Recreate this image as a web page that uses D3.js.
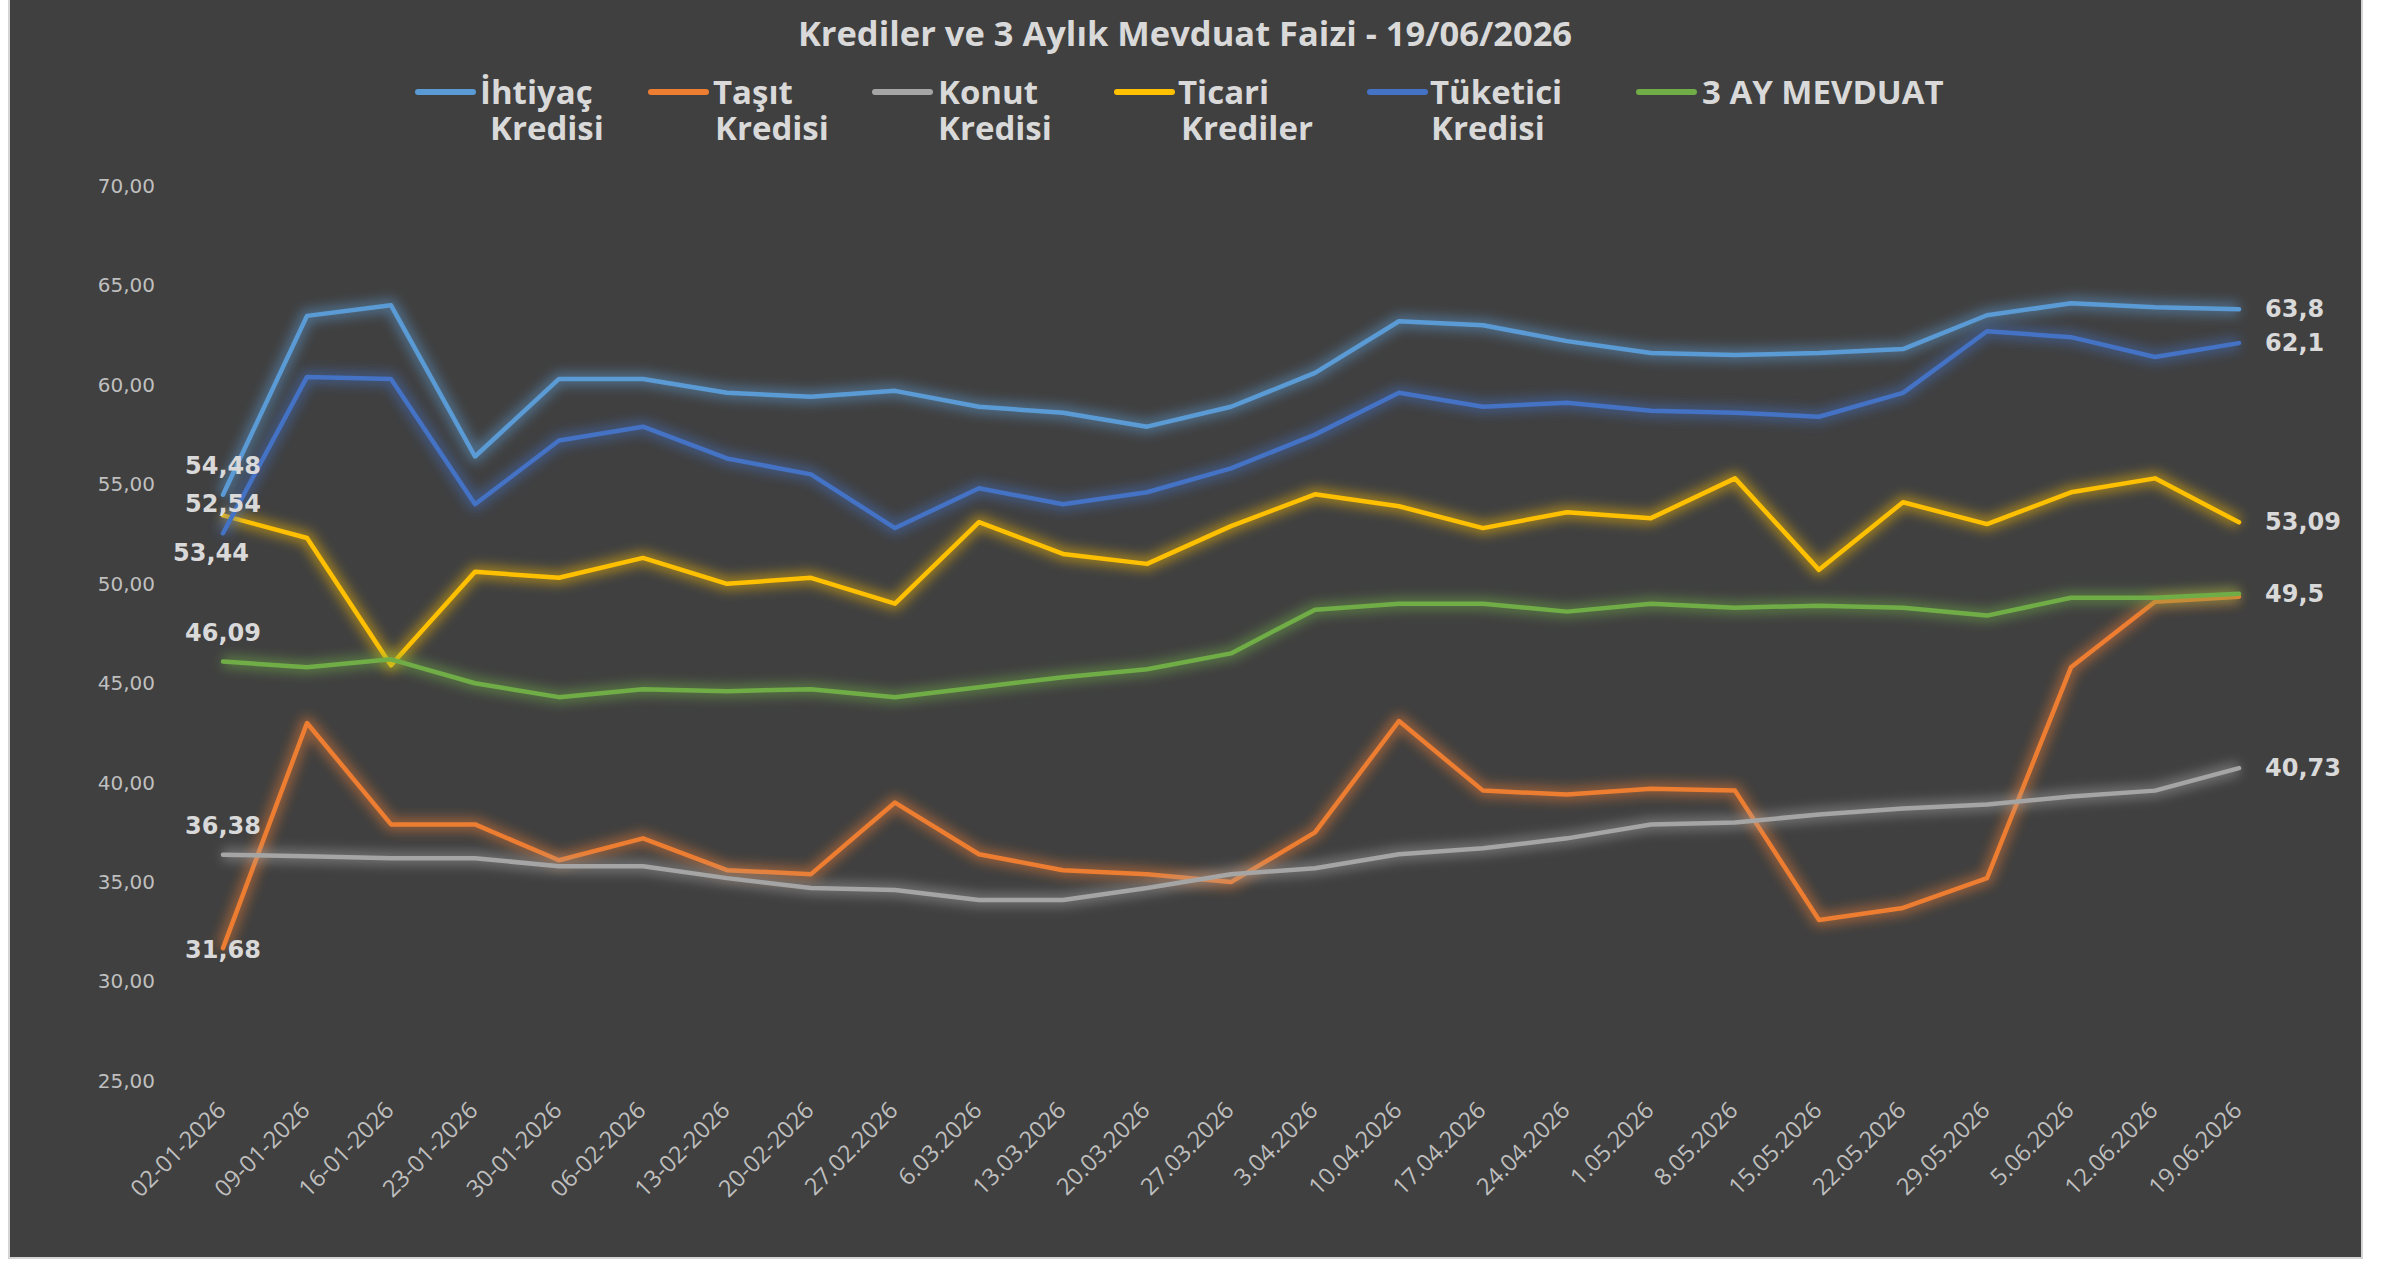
<!DOCTYPE html>
<html><head><meta charset="utf-8">
<script src="https://cdn.jsdelivr.net/npm/d3@7"></script>
<style>html,body{margin:0;padding:0;background:#fff;} svg{display:block;}</style>
</head><body>
<svg id="c" width="2395" height="1264"></svg>
<script>
const title = "Krediler ve 3 Aylık Mevduat Faizi - 19/06/2026";
const dates = ["02-01-2026","09-01-2026","16-01-2026","23-01-2026","30-01-2026","06-02-2026","13-02-2026","20-02-2026","27.02.2026","6.03.2026","13.03.2026","20.03.2026","27.03.2026","3.04.2026","10.04.2026","17.04.2026","24.04.2026","1.05.2026","8.05.2026","15.05.2026","22.05.2026","29.05.2026","5.06.2026","12.06.2026","19.06.2026"];
const seriesNames = ["İhtiyaç Kredisi","Taşıt Kredisi","Konut Kredisi","Ticari Krediler","Tüketici Kredisi","3 AY MEVDUAT"];
const legendLines = [["İhtiyaç","Kredisi"],["Taşıt","Kredisi"],["Konut","Kredisi"],["Ticari","Krediler"],["Tüketici","Kredisi"],["3 AY MEVDUAT"]];
const ihtiyac  = [54.48,63.47,64.0,56.4,60.3,60.3,59.6,59.4,59.7,58.9,58.6,57.9,58.9,60.6,63.2,63.0,62.2,61.6,61.5,61.6,61.8,63.5,64.1,63.9,63.8];
const tasit    = [31.68,43.0,37.9,37.9,36.1,37.2,35.6,35.4,39.0,36.4,35.6,35.4,35.0,37.5,43.1,39.6,39.4,39.7,39.6,33.1,33.7,35.2,45.8,49.1,49.35];
const konut    = [36.38,36.3,36.2,36.2,35.8,35.8,35.2,34.7,34.6,34.1,34.1,34.7,35.4,35.7,36.4,36.7,37.2,37.9,38.0,38.4,38.7,38.9,39.3,39.6,40.73];
const ticari   = [53.44,52.3,45.9,50.6,50.3,51.3,50.0,50.3,49.0,53.1,51.5,51.0,52.9,54.5,53.9,52.8,53.6,53.3,55.3,50.7,54.1,53.0,54.6,55.3,53.09];
const tuketici = [52.54,60.4,60.3,54.0,57.2,57.9,56.3,55.5,52.8,54.8,54.0,54.6,55.8,57.5,59.6,58.9,59.1,58.7,58.6,58.4,59.6,62.7,62.4,61.4,62.1];
const mevduat  = [46.09,45.8,46.2,45.0,44.3,44.7,44.6,44.7,44.3,44.8,45.3,45.7,46.5,48.7,49.0,49.0,48.6,49.0,48.8,48.9,48.8,48.4,49.3,49.3,49.5];
const yTicks = [25,30,35,40,45,50,55,60,65,70];
const showLastLabel = [true,false,true,true,true,true];

// styles / layout (not data)
const colors = ["#5B9BD5","#ED7D31","#A5A5A5","#FFC000","#4472C4","#70AD47"];
const firstLabelOffset = [[0,-29],[0,2],[0,-29],[-12,38],[0,-29],[0,-29]];
const legendSwatchX = [418,651,875,1117,1370,1639];
const legendTextX = [[480,490],[713,715],[938,938],[1178,1181],[1430,1431],[1702]];
const uiFont = "'Open Sans', 'Noto Sans', sans-serif";

const svg = d3.select("#c");
const values = [ihtiyac, tasit, konut, ticari, tuketici, mevduat];

svg.append("rect").attr("x",9).attr("y",-2).attr("width",2353).attr("height",1260)
  .attr("fill","#404040").attr("stroke","#d4d4d4").attr("stroke-width",2);

const x = d3.scalePoint().domain(dates).range([223, 2239]);
const y = d3.scaleLinear().domain([25,70]).range([1081, 186]);

const defs = svg.append("defs");
defs.append("filter").attr("id","glow").attr("x","-10%").attr("y","-30%").attr("width","120%").attr("height","160%")
  .append("feGaussianBlur").attr("stdDeviation",6);

// title
svg.append("text").attr("x",1185).attr("y",32).attr("text-anchor","middle").attr("dominant-baseline","central")
  .attr("font-family",uiFont).attr("font-weight","bold").attr("font-size",34.5)
  .attr("fill","#d9d9d9").text(title);

// legend
legendLines.forEach((lines,i)=>{
  svg.append("line").attr("x1",legendSwatchX[i]).attr("x2",legendSwatchX[i]+55).attr("y1",92).attr("y2",92)
    .attr("stroke",colors[i]).attr("stroke-width",6).attr("stroke-linecap","round");
  const t = svg.append("text").attr("y",92)
    .attr("font-family",uiFont).attr("font-weight","bold").attr("font-size",33)
    .attr("fill","#d9d9d9");
  lines.forEach((s,j)=>{
    t.append("tspan").attr("x",legendTextX[i][j]).attr("y",92+36*j).attr("dy","0.35em").text(s);
  });
});

// y axis
const yAxis = d3.axisLeft(y).tickValues(yTicks).tickSize(0).tickPadding(0)
  .tickFormat(d=>d3.format(".2f")(d).replace(".",","));
const gy = svg.append("g").attr("transform","translate(155,0)").call(yAxis);
gy.select(".domain").remove();
gy.selectAll("text").attr("font-family","'DejaVu Sans', Verdana, sans-serif").attr("font-size",20).attr("fill","#bfbfbf");

// x axis
const xAxis = d3.axisBottom(x).tickSize(0).tickPadding(0);
const gx = svg.append("g").attr("transform","translate(0,1106)").call(xAxis);
gx.select(".domain").remove();
gx.selectAll("text").attr("font-family",uiFont).attr("font-size",23.5).attr("fill","#bfbfbf")
  .attr("text-anchor","end").attr("dy","0.35em").attr("transform","translate(-2,0) rotate(-45)");

// lines
const line = d3.line().x((d,i)=>x(dates[i])).y(d=>y(d));
values.forEach((vals,i)=>{
  svg.append("path").attr("d",line(vals)).attr("fill","none").attr("stroke",colors[i])
    .attr("stroke-width",13).attr("stroke-opacity",0.5).attr("stroke-linejoin","round").attr("filter","url(#glow)");
  svg.append("path").attr("d",line(vals)).attr("fill","none").attr("stroke",colors[i])
    .attr("stroke-width",4.5).attr("stroke-linejoin","round").attr("stroke-linecap","round");
});

// data labels
const fmt = v => String(v).replace(".",",");
values.forEach((vals,i)=>{
  const f = vals[0];
  svg.append("text").attr("x",x(dates[0])+firstLabelOffset[i][0]).attr("y",y(f)+firstLabelOffset[i][1])
    .attr("text-anchor","middle").attr("dominant-baseline","central")
    .attr("font-family","'DejaVu Sans', Verdana, sans-serif").attr("font-weight","bold").attr("font-size",24)
    .attr("fill","#d9d9d9").text(fmt(f));
  if (showLastLabel[i]) {
    const l = vals[vals.length-1];
    svg.append("text").attr("x",x(dates[dates.length-1])+26).attr("y",y(l))
      .attr("text-anchor","start").attr("dominant-baseline","central")
      .attr("font-family","'DejaVu Sans', Verdana, sans-serif").attr("font-weight","bold").attr("font-size",24)
      .attr("fill","#d9d9d9").text(fmt(l));
  }
});
</script>
</body></html>
